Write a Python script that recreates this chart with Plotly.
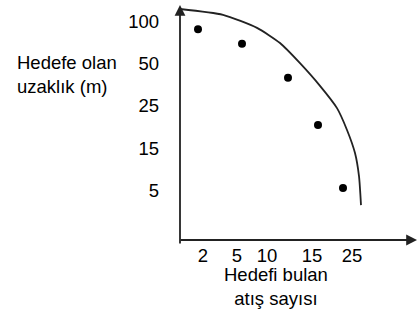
import plotly.graph_objects as go

# Tick labels (categorical positions on both axes)
y_tick_labels = ["5", "15", "25", "50", "100"]
y_tick_pos = [1, 2, 3, 4, 5]
x_tick_labels = ["2", "5", "10", "15", "25"]
x_tick_pos = [2.3, 5.7, 8.7, 13.2, 17.2]

# Observed points (axis units)
point_x = [1.8, 6.2, 10.8, 13.8, 16.3]
point_y = [4.83, 4.48, 3.67, 2.55, 1.05]

# Curve (axis units)
curve_x = [0.0, 4.3, 7.7, 10.0, 12.0, 14.0, 15.7, 16.7, 17.5, 17.9, 18.1]
curve_y = [5.31, 5.17, 4.86, 4.50, 4.02, 3.48, 2.95, 2.43, 1.88, 1.33, 0.64]

W, H = 418, 315
ML, MR, MT, MB = 180, 1, 5, 75
XR = [0, 23.7]
YR = [-0.19, 5.405]
FONT = "Liberation Sans, Arial, sans-serif"
FS = 18.5

fig = go.Figure()
fig.add_trace(go.Scatter(x=curve_x, y=curve_y, mode="lines",
                         line=dict(color="#222222", width=1.8, shape="spline", smoothing=0.6),
                         cliponaxis=False, hoverinfo="skip"))
fig.add_trace(go.Scatter(x=point_x, y=point_y, mode="markers",
                         marker=dict(color="black", size=8), cliponaxis=False))

def px_x(p):
    return (p - ML) / (W - ML - MR)

def px_y(p):
    return (H - MB - p) / (H - MT - MB)

# axes as arrows
fig.add_annotation(x=XR[1], y=YR[0], xref="x", yref="y", text="", showarrow=True,
                   ax=-238, ay=0, arrowhead=2, arrowsize=1.2, arrowwidth=1.8,
                   arrowcolor="#222222", standoff=0)
fig.add_annotation(x=0, y=YR[1], xref="x", yref="y", text="", showarrow=True,
                   ax=0, ay=240, arrowhead=2, arrowsize=1.2, arrowwidth=1.8,
                   arrowcolor="#222222", standoff=0)

fig.add_annotation(x=px_x(15), y=px_y(74), xref="paper", yref="paper",
                   text="Hedefe olan<br>uzaklık (m)", showarrow=False,
                   xanchor="left", yanchor="middle", align="left",
                   font=dict(family=FONT, size=FS, color="black"))
fig.add_annotation(x=px_x(276), y=px_y(286), xref="paper", yref="paper",
                   text="Hedefi bulan<br>atış sayısı", showarrow=False,
                   xanchor="center", yanchor="middle", align="center",
                   font=dict(family=FONT, size=FS, color="black"))

fig.update_layout(
    width=W, height=H, margin=dict(l=ML, r=MR, t=MT, b=MB),
    paper_bgcolor="white", plot_bgcolor="white", showlegend=False,
    font=dict(family=FONT, size=FS, color="black"),
    xaxis=dict(range=XR, showgrid=False, zeroline=False, showline=False,
               tickmode="array", tickvals=x_tick_pos, ticktext=x_tick_labels,
               ticks="", ticklabelstandoff=2, fixedrange=True),
    yaxis=dict(range=YR, showgrid=False, zeroline=False, showline=False,
               tickmode="array", tickvals=y_tick_pos, ticktext=y_tick_labels,
               ticks="", ticklabelstandoff=20, fixedrange=True),
)

fig.write_html("out.html", config={"displayModeBar": False},
               post_script="document.body.style.margin='0';document.body.style.overflow='hidden';")
